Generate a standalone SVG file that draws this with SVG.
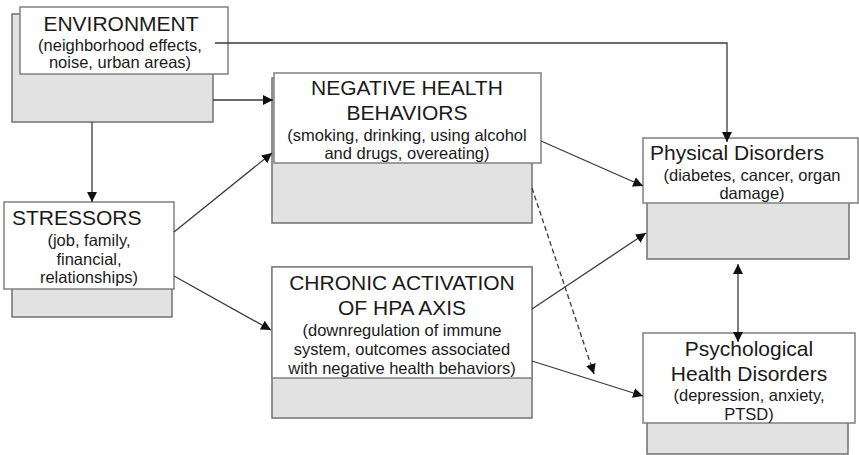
<svg xmlns="http://www.w3.org/2000/svg" width="859" height="455" viewBox="0 0 859 455">
<defs>
<style>
.back{fill:#e2e2e2;stroke:#707070;stroke-width:1.5}
.front{fill:#ffffff;stroke:#808080;stroke-width:1.5}
.h{font-family:"Liberation Sans",Arial,sans-serif;font-size:21px;fill:#1a1a1a}
.s{font-family:"Liberation Sans",Arial,sans-serif;font-size:16.5px;fill:#1a1a1a}
.c{text-anchor:middle}
.ln{fill:none;stroke:#3a3a3a;stroke-width:1.3}
.dash{stroke-dasharray:5 3}
</style>
<marker id="ah" viewBox="0 0 10 10" refX="10" refY="5" markerWidth="10" markerHeight="10" markerUnits="userSpaceOnUse" orient="auto-start-reverse">
<path d="M0,0 L10,5 L0,10 z" fill="#111"/>
</marker>
</defs>
<rect width="859" height="455" fill="#ffffff"/>

<g id="environment">
<rect class="back" x="12" y="14" width="201" height="108"/>
<rect class="front" x="20" y="7" width="208" height="67"/>
<text class="h c" x="121" y="30.5">ENVIRONMENT</text>
<text class="s c" x="120" y="51">(neighborhood effects,</text>
<text class="s c" x="120" y="68">noise, urban areas)</text>
</g>

<g id="negative">
<rect class="back" x="272" y="78" width="260" height="145"/>
<rect class="front" x="274" y="73" width="267" height="90"/>
<text class="h c" x="407" y="95">NEGATIVE HEALTH</text>
<text class="h c" x="407" y="119.5">BEHAVIORS</text>
<text class="s c" x="407" y="140.5">(smoking, drinking, using alcohol</text>
<text class="s c" x="407" y="158.5">and drugs, overeating)</text>
</g>

<g id="stressors">
<rect class="back" x="12" y="210" width="160" height="107"/>
<rect class="front" x="4" y="202" width="170" height="87"/>
<text class="h" x="12" y="224.5">STRESSORS</text>
<text class="s c" x="89" y="246">(job, family,</text>
<text class="s c" x="89" y="264.5">financial,</text>
<text class="s c" x="89" y="283">relationships)</text>
</g>

<g id="chronic">
<rect class="back" x="272" y="267" width="260" height="151"/>
<rect class="front" x="272" y="267" width="260" height="111"/>
<text class="h c" x="402" y="289.5">CHRONIC ACTIVATION</text>
<text class="h c" x="402" y="314.5">OF HPA AXIS</text>
<text class="s c" x="402" y="335.5">(downregulation of immune</text>
<text class="s c" x="402" y="354.5">system, outcomes associated</text>
<text class="s c" x="402" y="373.5">with negative health behaviors)</text>
</g>

<g id="physical">
<rect class="back" x="647" y="146" width="202" height="113"/>
<rect class="front" x="643" y="138" width="215" height="65"/>
<text class="h" x="650" y="159.5">Physical Disorders</text>
<text class="s c" x="752" y="180.5">(diabetes, cancer, organ</text>
<text class="s c" x="752" y="198.5">damage)</text>
</g>

<g id="psychological">
<rect class="back" x="647" y="340" width="201" height="114"/>
<rect class="front" x="643" y="333" width="212" height="90"/>
<text class="h c" x="749" y="355.5">Psychological</text>
<text class="h c" x="749" y="380.5">Health Disorders</text>
<text class="s c" x="749" y="401">(depression, anxiety,</text>
<text class="s c" x="749" y="420">PTSD)</text>
</g>

<g id="connectors">
<path class="ln" d="M92,122 L92,202" marker-end="url(#ah)"/>
<path class="ln" d="M215,43 L727,43 L727,142" marker-end="url(#ah)"/>
<path class="ln" d="M213,100 L273,100" marker-end="url(#ah)"/>
<path class="ln" d="M174,232 L272,153" marker-end="url(#ah)"/>
<path class="ln" d="M174,276 L271,330" marker-end="url(#ah)"/>
<path class="ln" d="M541,141 L643,186" marker-end="url(#ah)"/>
<path class="ln" d="M532,309 L646,233" marker-end="url(#ah)"/>
<path class="ln" d="M532,361 L643,396" marker-end="url(#ah)"/>
<path class="ln dash" d="M532,188 L594,374" marker-end="url(#ah)"/>
<path class="ln" d="M738,264 L738,342" marker-start="url(#ah)" marker-end="url(#ah)"/>
</g>
</svg>
